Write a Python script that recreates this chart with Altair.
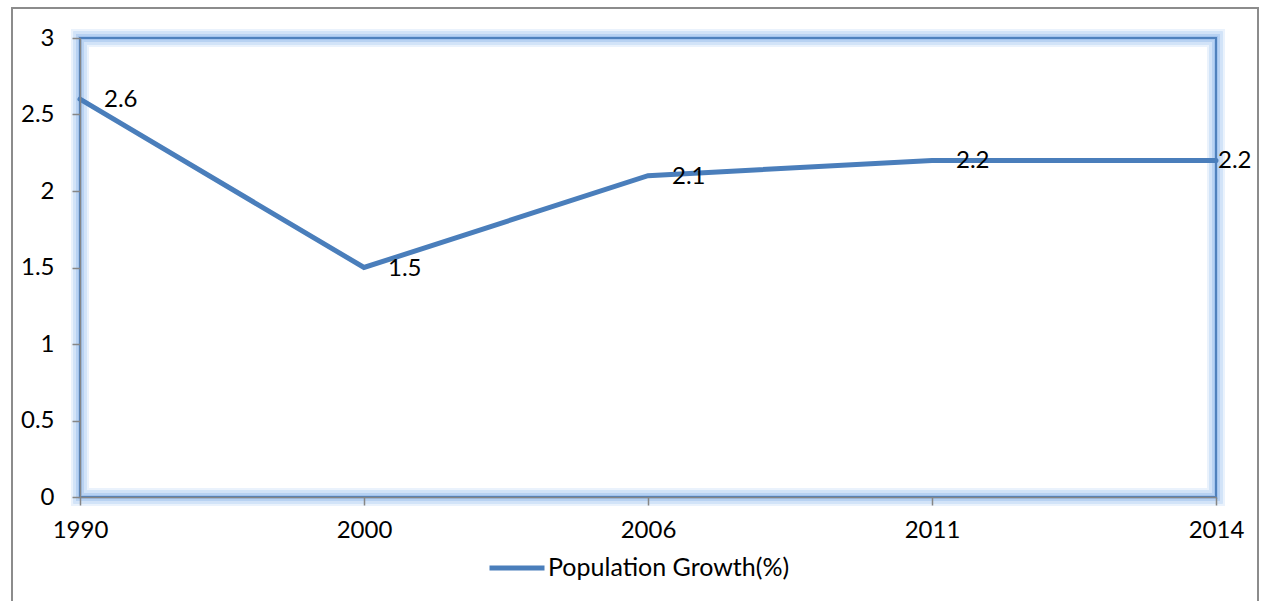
import altair as alt
import pandas as pd

years = ["1990", "2000", "2006", "2011", "2014"]
growth = [2.6, 1.5, 2.1, 2.2, 2.2]
series_name = "Population Growth(%)"
y_ticks = [0, 0.5, 1, 1.5, 2, 2.5, 3]

df = pd.DataFrame({"year": years, "value": growth, "series": [series_name] * len(years)})

W, H = 1136, 459
FONT = "Lato"
FS = 24
LINE_BLUE = "#4A7EBB"

x_enc = alt.X("year:O", sort=years, scale=alt.Scale(type="point", padding=0),
              axis=alt.Axis(title=None, labelAngle=0, labelFont=FONT, labelFontSize=FS,
                            labelColor="black", domainColor="#868686", domainWidth=1.5,
                            tickColor="#868686", tickWidth=1.5, tickSize=8, labelPadding=13,
                            zindex=1))
y_enc = alt.Y("value:Q", scale=alt.Scale(domain=[0, 3], nice=False),
              axis=alt.Axis(title=None, values=y_ticks, format="~g", grid=False,
                            labelFont=FONT, labelFontSize=FS, labelColor="black",
                            domainColor="#868686", domainWidth=1.5, tickColor="#868686",
                            tickWidth=1.5, tickSize=8, labelPadding=18, zindex=1))

frame_enc = dict(x=alt.value(0), x2=alt.value(W), y=alt.value(0), y2=alt.value(H))
outer = alt.Chart(df).mark_rect(fill=None, stroke="#8C8C8C", strokeWidth=1.5).encode(
    x=alt.value(-68), x2=alt.value(W + 42), y=alt.value(-30), y2=alt.value(H + 120))
glow1 = alt.Chart(df).mark_rect(fill=None, stroke="#EAF2FC", strokeWidth=18).encode(**frame_enc)
glow2 = alt.Chart(df).mark_rect(fill=None, stroke="#D2E3F8", strokeWidth=13).encode(**frame_enc)
glow3 = alt.Chart(df).mark_rect(fill=None, stroke="#B8D2F2", strokeWidth=8).encode(**frame_enc)
glow4 = alt.Chart(df).mark_rect(fill=None, stroke="#A3C4EE", strokeWidth=4).encode(**frame_enc)
edge = alt.Chart(df).mark_rect(fill=None, stroke="#4F81BD", strokeWidth=2).encode(**frame_enc)

line = alt.Chart(df).mark_line(strokeWidth=5, strokeCap="round").encode(
    x=x_enc, y=y_enc,
    color=alt.Color("series:N", scale=alt.Scale(domain=[series_name], range=[LINE_BLUE]),
                    legend=alt.Legend(title=None, orient="none", legendX=407, legendY=500,
                                      symbolType="stroke", symbolSize=3025, symbolStrokeWidth=5,
                                      labelFont=FONT, labelFontSize=25, labelColor="black",
                                      labelOffset=1, labelLimit=500, padding=0)))

labels = alt.Chart(df).transform_filter(alt.datum.year != "2014").mark_text(
    align="left", baseline="middle", dx=24, dy=1, font=FONT, fontSize=FS, color="black").encode(
    x=alt.X("year:O", sort=years), y="value:Q", text=alt.Text("value:Q", format=".1f"))
label_last = alt.Chart(df).transform_filter(alt.datum.year == "2014").mark_text(
    align="left", baseline="middle", dx=2, dy=1, font=FONT, fontSize=FS, color="black").encode(
    x=alt.X("year:O", sort=years), y="value:Q", text=alt.Text("value:Q", format=".1f"))

chart = alt.layer(outer, glow1, glow2, glow3, glow4, edge, line, labels, label_last).properties(
    width=W, height=H,
    autosize=alt.AutoSizeParams(type="none"),
    padding={"left": 80, "top": 38, "right": 48, "bottom": 104},
).configure_view(stroke=None).configure(background="white")

chart.save("out.html", embed_options={"renderer": "svg", "actions": False})
